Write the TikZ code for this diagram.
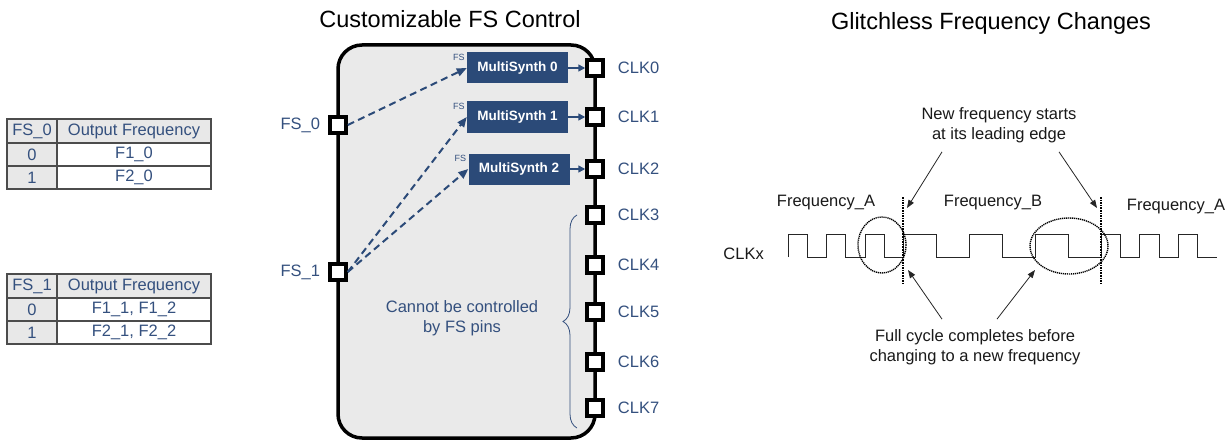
\documentclass[tikz,border=0pt]{standalone}
\usepackage{fontspec}
\setmainfont{Liberation Sans}
\usetikzlibrary{positioning,arrows.meta,decorations.pathreplacing,calc}
\definecolor{msblue}{HTML}{2B4A78}
\definecolor{txtblue}{HTML}{34507E}
\definecolor{blockgray}{HTML}{EAEAEA}
\definecolor{cellgray}{HTML}{E8E8E8}
\tikzset{
  pinbox/.style={draw=black, line width=3.5pt, fill=white, minimum size=16pt, inner sep=0pt},
  synth/.style={fill=msblue, text=white, font=\bfseries\fontsize{13.5}{15}\selectfont, minimum width=101pt, minimum height=31pt, inner sep=0pt},
  fstag/.style={font=\fontsize{9}{10}\selectfont, anchor=east},
  fsline/.style={msblue, line width=2pt, dash pattern=on 7pt off 4.5pt, -{Triangle[length=10pt,width=8pt]}},
  tabline/.style={draw=black!70, line width=1.4pt},
  wave/.style={draw=black!85, line width=0.9pt},
  note/.style={text=black!90, align=center},
  pointer/.style={draw=black!85, line width=0.8pt, -{Triangle[length=8pt,width=6pt]}},
  edgeline/.style={draw=black, line width=1.6pt, densely dotted},
  loop/.style={draw=black, line width=1.4pt, dash pattern=on 1.2pt off 0.8pt}
}
\begin{document}
\begin{tikzpicture}[x=1pt, y=-1pt,
  every node/.style={font=\fontsize{16.5}{20}\selectfont, text=txtblue, inner sep=0pt}]
\useasboundingbox (0,0) rectangle (1230,441);

% tables
\fill[cellgray] (7,119) rectangle (211,143) (7,143) rectangle (57,189);
\draw[tabline] (7,119) rectangle (211,189) (57,119) -- (57,189) (7,143) -- (211,143) (7,166) -- (211,166);
\node (t0h1) at (32,131) {FS\_0};
\node (t0h2) at (134,131) {Output Frequency};
\node (t0a1) at (32,154.5) {0};
\node (t0a2) at (134,154.5) {F1\_0};
\node (t0b1) at (32,177.5) {1};
\node (t0b2) at (134,177.5) {F2\_0};

\fill[cellgray] (7,274) rectangle (211,298) (7,298) rectangle (57,344);
\draw[tabline] (7,274) rectangle (211,344) (57,274) -- (57,344) (7,298) -- (211,298) (7,321) -- (211,321);
\node (t1h1) at (32,286) {FS\_1};
\node (t1h2) at (134,286) {Output Frequency};
\node (t1a1) at (32,309.5) {0};
\node (t1a2) at (134,309.5) {F1\_1, F1\_2};
\node (t1b1) at (32,332.5) {1};
\node (t1b2) at (134,332.5) {F2\_1, F2\_2};

% FS control block
\node[text=black, font=\fontsize{23.5}{28}\selectfont] (ctitle) at (450,19) {Customizable FS Control};
\draw[line width=3.5pt, fill=blockgray, rounded corners=24pt] (338,45) rectangle (595,438);

\node[synth] (ms0) at (517.5,68) {MultiSynth 0};
\node[synth] (ms1) at (517.5,117) {MultiSynth 1};
\node[synth] (ms2) at (519,169) {MultiSynth 2};
\node[fstag] (fs0tag) at ($(ms0.north west)+(-2,5)$) {FS};
\node[fstag] (fs1tag) at ($(ms1.north west)+(-2,5)$) {FS};
\node[fstag] (fs2tag) at ($(ms2.north west)+(-2,5)$) {FS};

\node[pinbox] (fs0) at (338,125) {};
\node[left=8pt of fs0] (fs0l) {FS\_0};
\node[pinbox] (fs1) at (338,272) {};
\node[left=8pt of fs1] (fs1l) {FS\_1};

\draw[fsline] (fs0.east) -- (ms0.west);
\draw[fsline] (fs1.east) -- (ms1.west);
\draw[fsline] (fs1.east) -- (ms2.west);

\node[pinbox] (clk0) at (595,68) {};
\node[right=13pt of clk0] (clk0l) {CLK0};
\node[pinbox] (clk1) at (595,117) {};
\node[right=13pt of clk1] (clk1l) {CLK1};
\node[pinbox] (clk2) at (595,169) {};
\node[right=13pt of clk2] (clk2l) {CLK2};
\node[pinbox] (clk3) at (595,215) {};
\node[right=13pt of clk3] (clk3l) {CLK3};
\node[pinbox] (clk4) at (595,265) {};
\node[right=13pt of clk4] (clk4l) {CLK4};
\node[pinbox] (clk5) at (595,312) {};
\node[right=13pt of clk5] (clk5l) {CLK5};
\node[pinbox] (clk6) at (595,362) {};
\node[right=13pt of clk6] (clk6l) {CLK6};
\node[pinbox] (clk7) at (595,408) {};
\node[right=13pt of clk7] (clk7l) {CLK7};

\draw[msblue, line width=1.5pt, -{Triangle[length=7pt,width=7pt]}] (ms0.east) -- (clk0.west);
\draw[msblue, line width=1.5pt, -{Triangle[length=7pt,width=7pt]}] (ms1.east) -- (clk1.west);
\draw[msblue, line width=1.5pt, -{Triangle[length=7pt,width=7pt]}] (ms2.east) -- (clk2.west);

\coordinate (bracetop) at (577,215);
\coordinate (bracebot) at (577,428);
\draw[txtblue, line width=0.8pt, decorate, decoration={brace, amplitude=14pt}] (bracebot) -- (bracetop);
\node[align=center] (nofs) at (462,318) {Cannot be controlled\\by FS pins};

% glitchless changes
\node[text=black, font=\fontsize{23.5}{28}\selectfont] (gtitle) at (991,23) {Glitchless Frequency Changes};
\node[note, anchor=east] (clkx) at (764,254) {CLKx};
\draw[wave] (788,257) -- (788,234) -- (807.3,234) -- (807.3,257) -- (826.5,257) -- (826.5,234)
  -- (845.8,234) -- (845.8,257) -- (865,257) -- (865,234) -- (884.2,234) -- (884.2,257)
  -- (903.5,257) -- (903.5,234) -- (936.5,234) -- (936.5,257) -- (969.5,257) -- (969.5,234)
  -- (1002.5,234) -- (1002.5,257) -- (1035.5,257) -- (1035.5,234) -- (1068.5,234) -- (1068.5,257)
  -- (1101.5,257) -- (1101.5,234) -- (1120.7,234) -- (1120.7,257) -- (1139.9,257) -- (1139.9,234)
  -- (1159.1,234) -- (1159.1,257) -- (1178.3,257) -- (1178.3,234) -- (1197.5,234) -- (1197.5,257)
  -- (1216.7,257);

\coordinate (edge1top) at (903,197);
\coordinate (edge1bot) at (903,283);
\coordinate (edge2top) at (1101,197);
\coordinate (edge2bot) at (1101,283);
\draw[edgeline] (edge1top) -- (edge1bot);
\draw[edgeline] (edge2top) -- (edge2bot);
\draw[loop] (882,245) ellipse [x radius=24, y radius=28];
\draw[loop] (1069,246) ellipse [x radius=39, y radius=28];

\node[note] (freqa1) at (826,203) {Frequency\_A};
\node[note] (freqb) at (993,203) {Frequency\_B};
\node[note] (freqa2) at (1176,207) {Frequency\_A};

\node[note] (newfreq) at (999,125) {New frequency starts\\at its leading edge};
\node[note] (fullcyc) at (975,347) {Full cycle completes before\\changing to a new frequency};

\coordinate (tip1) at (907,208);
\coordinate (tip2) at (1097,208);
\coordinate (tip3) at (908,270);
\coordinate (tip4) at (1035,270);
\draw[pointer] ($(newfreq.south)+(-57,9)$) -- (tip1);
\draw[pointer] ($(newfreq.south)+(60,9)$) -- (tip2);
\draw[pointer] ($(fullcyc.north)+(-33,-10)$) -- (tip3);
\draw[pointer] ($(fullcyc.north)+(22,-10)$) -- (tip4);
\end{tikzpicture}
\end{document}
